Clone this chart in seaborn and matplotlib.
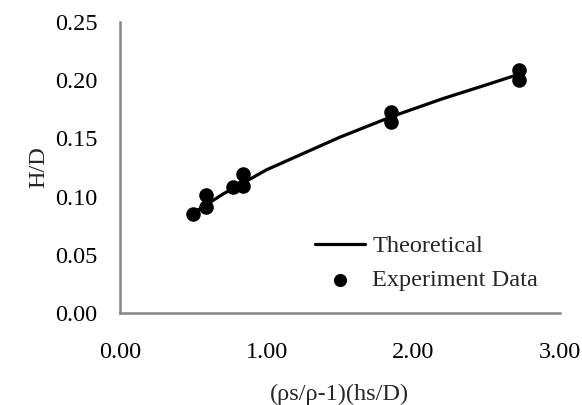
import numpy as np
import pandas as pd
import matplotlib
matplotlib.use('Agg')
import matplotlib.pyplot as plt
import seaborn as sns

# Theoretical curve
theory_x = [0.50, 0.59, 0.70, 0.83, 1.00, 1.25, 1.50, 1.86, 2.20, 2.50, 2.72]
theory_y = [0.086, 0.093, 0.102, 0.111, 0.123, 0.137, 0.151, 0.169, 0.184, 0.196, 0.205]

# Experiment data points
exp_x = [0.50, 0.59, 0.59, 0.77, 0.84, 0.84, 1.85, 1.85, 2.72, 2.72]
exp_y = [0.085, 0.101, 0.091, 0.108, 0.119, 0.109, 0.173, 0.164, 0.209, 0.200]

sns.set_style('white')
plt.rcParams['font.family'] = ['Liberation Serif', 'DejaVu Serif']

fs = 17.5
fig = plt.figure(figsize=(5.82, 4.05), dpi=100)
ax = fig.add_axes([0.206, 0.227, 0.756, 0.719])

theory = pd.DataFrame({'x': theory_x, 'y': theory_y})
exp = pd.DataFrame({'x': exp_x, 'y': exp_y})

sns.lineplot(data=theory, x='x', y='y', ax=ax, color='black', linewidth=2.3,
             label='Theoretical', sort=True)
sns.scatterplot(data=exp, x='x', y='y', ax=ax, color='black', s=110,
                edgecolor='black', linewidth=0, label='Experiment Data', zorder=3)

ax.set_xlim(0, 3)
ax.set_ylim(0, 0.25)
ax.set_xticks([0, 1, 2, 3])
ax.set_yticks([0, 0.05, 0.10, 0.15, 0.20, 0.25])
ax.set_xticklabels(['0.00', '1.00', '2.00', '3.00'])
ax.set_yticklabels(['0.00', '0.05', '0.10', '0.15', '0.20', '0.25'])

grey = '#868686'
for side in ['top', 'right']:
    ax.spines[side].set_visible(False)
for side in ['left', 'bottom']:
    ax.spines[side].set_color(grey)
    ax.spines[side].set_linewidth(1.8)
ax.tick_params(axis='both', direction='out', length=5, width=1.5, color=grey,
               labelsize=fs, labelcolor='black')
ax.tick_params(axis='y', pad=11)
ax.tick_params(axis='x', pad=15.5)

ax.set_xlabel('(ρs/ρ-1)(hs/D)', fontsize=fs)
ax.set_ylabel('H/D', fontsize=fs)
ax.xaxis.set_label_coords(0.5, -0.243)
ax.yaxis.set_label_coords(-0.161, 0.5)

ax.legend(loc='upper left', bbox_to_anchor=(303 / 582, 1 - 223 / 405),
          bbox_transform=fig.transFigure, frameon=False, borderpad=0,
          fontsize=fs, handlelength=2.05, handletextpad=0.3, labelspacing=0.5,
          markerscale=0.9)

fig.savefig('out.png', dpi=100)
